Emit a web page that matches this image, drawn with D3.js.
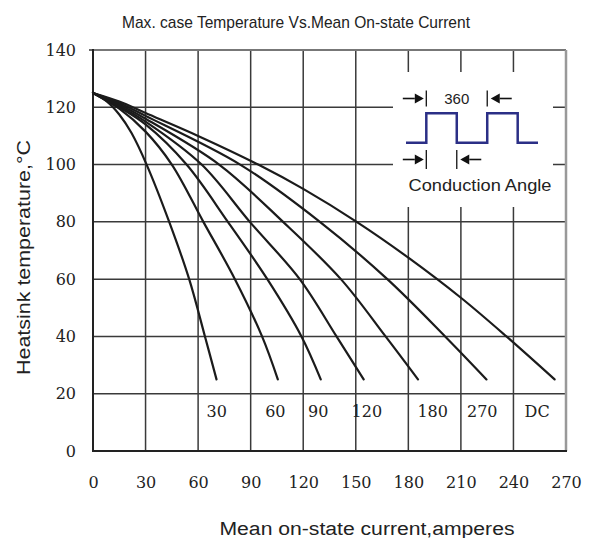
<!DOCTYPE html>
<html><head><meta charset="utf-8">
<script src="https://cdn.jsdelivr.net/npm/d3@7/dist/d3.min.js"></script>
<style>body{margin:0;background:#fff}</style>
</head><body>
<svg id="chart" width="589" height="538"></svg>
<script>
// ---------- data ----------
const title = "Max. case Temperature Vs.Mean On-state Current";
const xTitle = "Mean on-state current,amperes";
const yTitle = "Heatsink temperature,\u00B0C";
const xTicks = [0, 30, 60, 90, 120, 150, 180, 210, 240, 270];
const yTicks = [0, 20, 40, 60, 80, 100, 120, 140];
const curveNames = ["30", "60", "90", "120", "180", "270", "DC"];
// [mean current (A), heatsink temperature (°C)]
const curve30  = [[0,125],[8,122],[15,117.5],[22,111],[30.6,100],[43.5,80],[54.9,60],[63.9,40],[70.5,25]];
const curve60  = [[0,125],[15,119.5],[30,111.5],[45,100],[63,80],[81,60],[96.5,40],[105.5,25]];
const curve90  = [[0,125],[15,120],[30,114],[53.4,100],[77,80],[99.5,60],[119,40],[130,25]];
const curve120 = [[0,125],[15,120.5],[30,115],[62,100],[89.5,80],[118,60],[139,40],[154.5,25]];
const curve180 = [[0,125],[15,121],[30,116],[72,100],[108.5,80],[141.5,60],[167,40],[185.5,25]];
const curve270 = [[0,125],[15,121.5],[30,117],[84,100],[129.5,80],[168,60],[201,40],[224.6,25]];
const curveDC  = [[0,125],[15,122],[30,118],[60,110],[94.3,100],[120,91.5],[150.5,80],[180,67.5],[210,53.5],[236,40],[263.5,25]];
const curves = [curve30, curve60, curve90, curve120, curve180, curve270, curveDC];
// label anchor (current in A) for each curve name, placed at temperature labelTemp
const labelCurrent = [70.6, 104.1, 128.6, 156.3, 193.9, 222.2, 253.5];
const labelTemp = 12;
// inset: conduction waveform, phase in degrees and on/off level
const wavePhase = [-120, 0, 0, 180, 180, 360, 360, 540, 540, 660];
const waveLevel = [0, 0, 1, 1, 0, 0, 1, 1, 0, 0];
const periodMarks = [0, 360];
const periodLabel = "360";
const conductionMarks = [0, 180];
const conductionLabel = "Conduction Angle";

// ---------- layout ----------
const svg = d3.select("#chart");
const L = 93, R = 566, T = 50, B = 451;
const x = d3.scaleLinear().domain([0, 270]).range([L, R]);
const y = d3.scaleLinear().domain([0, 140]).range([B, T]);
const serif = "'DejaVu Serif', serif";
const sans = "'Liberation Sans', Arial, sans-serif";
const gridColor = "#3a3a3a";

// grid
const g = svg.append("g");
g.selectAll("line.v").data(xTicks.slice(1, -1)).join("line")
  .attr("x1", d => x(d)).attr("x2", d => x(d)).attr("y1", T).attr("y2", B)
  .attr("stroke", gridColor).attr("stroke-width", 1.5);
g.selectAll("line.h").data(yTicks.slice(1, -1)).join("line")
  .attr("x1", L).attr("x2", R).attr("y1", d => y(d)).attr("y2", d => y(d))
  .attr("stroke", gridColor).attr("stroke-width", 1.5);
// frame
g.append("line").attr("x1", L - 1).attr("x2", R).attr("y1", T).attr("y2", T).attr("stroke", "#777").attr("stroke-width", 2);
g.append("line").attr("x1", L - 4).attr("x2", L).attr("y1", T).attr("y2", T).attr("stroke", "#333").attr("stroke-width", 1.5);
g.append("line").attr("x1", R).attr("x2", R).attr("y1", T).attr("y2", B).attr("stroke", "#999").attr("stroke-width", 2.5);
g.append("line").attr("x1", L).attr("x2", L).attr("y1", T - 1).attr("y2", B + 1).attr("stroke", "#222").attr("stroke-width", 2);
g.append("line").attr("x1", L - 1).attr("x2", R + 1).attr("y1", B).attr("y2", B).attr("stroke", "#222").attr("stroke-width", 2);

// tick labels via axes (lines hidden)
const yAxis = svg.append("g").attr("transform", `translate(${L},0)`)
  .call(d3.axisLeft(y).tickValues(yTicks).tickSize(0).tickPadding(17));
const xAxis = svg.append("g").attr("transform", `translate(0,${B})`)
  .call(d3.axisBottom(x).tickValues(xTicks).tickSize(0).tickPadding(26));
[yAxis, xAxis].forEach(a => {
  a.select(".domain").remove();
  a.selectAll("text").attr("font-family", serif).attr("font-size", 16).attr("fill", "#222");
});

// inset
const inset = svg.append("g");
inset.append("rect").attr("x", 393).attr("y", 72).attr("width", 160).attr("height", 135).attr("fill", "#fff");
const wx = d3.scaleLinear().domain([-120, 660]).range([406, 538]);
const wy = d3.scaleLinear().domain([0, 1]).range([142.7, 113.3]);
const wave = wavePhase.map((p, i) => [p, waveLevel[i]]);
inset.append("path").datum(wave)
  .attr("d", d3.line().x(d => wx(d[0])).y(d => wy(d[1])))
  .attr("fill", "none").attr("stroke", "#2b2f86").attr("stroke-width", 2.5);

function marker(markPhases, yc, half) {
  const [a, b] = markPhases.map(wx);
  [a, b].forEach(px => inset.append("line").attr("x1", px).attr("x2", px)
    .attr("y1", yc - half).attr("y2", yc + half).attr("stroke", "#111").attr("stroke-width", 1.3));
  const arrow = (tip, dir) => {
    const tail = tip - dir * 21, base = tip - dir * 9;
    inset.append("line").attr("x1", tail).attr("x2", base).attr("y1", yc).attr("y2", yc)
      .attr("stroke", "#111").attr("stroke-width", 1.6);
    inset.append("path").attr("d", `M${tip},${yc}L${base},${yc - 5}L${base},${yc + 5}Z`).attr("fill", "#111");
  };
  arrow(a - 2.5, 1);
  arrow(b + 3.5, -1);
  return [a, b];
}
const m1 = marker(periodMarks, 98.5, 8);
inset.append("text").attr("x", (m1[0] + m1[1]) / 2).attr("y", 103.5).attr("font-family", sans)
  .attr("font-size", 15).attr("fill", "#222").attr("text-anchor", "middle").text(periodLabel);
marker(conductionMarks, 159.5, 9.5);
inset.append("text").attr("x", 480).attr("y", 190.5).attr("font-family", sans)
  .attr("font-size", 17).attr("fill", "#222").attr("text-anchor", "middle")
  .attr("textLength", 143).attr("lengthAdjust", "spacingAndGlyphs").text(conductionLabel);

// curves
const line = d3.line().x(d => x(d[0])).y(d => y(d[1])).curve(d3.curveCatmullRom.alpha(0.5));
svg.append("g").selectAll("path").data(curves).join("path")
  .attr("d", line).attr("fill", "none").attr("stroke", "#1b1b1b").attr("stroke-width", 2.2)
  .attr("stroke-linecap", "round");

// curve labels
svg.append("g").selectAll("text").data(curveNames).join("text")
  .attr("x", (d, i) => x(labelCurrent[i])).attr("y", y(labelTemp))
  .attr("text-anchor", "middle").attr("font-family", serif).attr("font-size", 16)
  .attr("fill", "#222").text(d => d);

// titles
svg.append("text").attr("x", 296).attr("y", 28).attr("text-anchor", "middle")
  .attr("font-family", "'Liberation Sans Narrow', 'Liberation Sans', Arial, sans-serif")
  .attr("font-size", 17).attr("fill", "#222")
  .attr("textLength", 348).attr("lengthAdjust", "spacingAndGlyphs").text(title);
svg.append("text").attr("x", 367).attr("y", 535).attr("text-anchor", "middle")
  .attr("font-family", sans).attr("font-size", 18).attr("fill", "#222")
  .attr("textLength", 295).attr("lengthAdjust", "spacingAndGlyphs").text(xTitle);
svg.append("text").attr("transform", "translate(30,257.5) rotate(-90)").attr("text-anchor", "middle")
  .attr("font-family", sans).attr("font-size", 18).attr("fill", "#222")
  .attr("textLength", 235).attr("lengthAdjust", "spacingAndGlyphs").text(yTitle);
</script>
</body></html>
